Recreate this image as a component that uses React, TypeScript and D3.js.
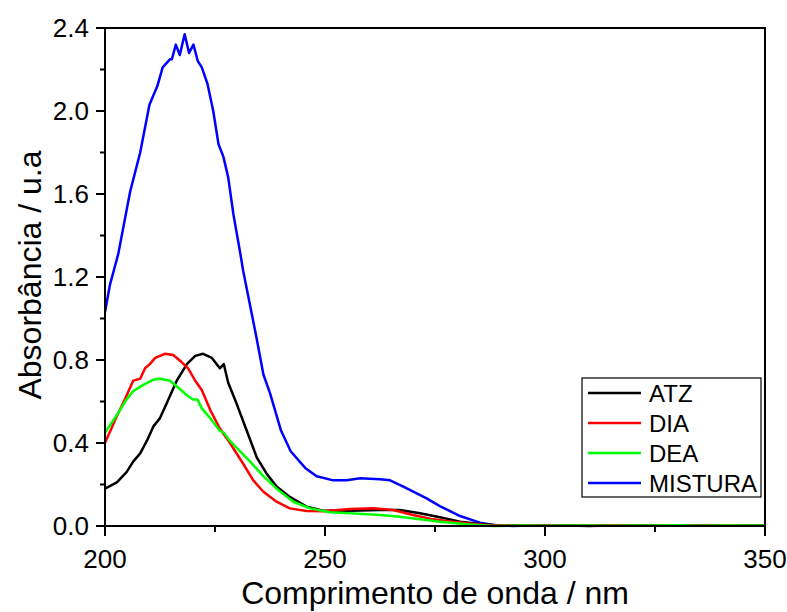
import React from "react";
import * as d3 from "d3";

const atzX = [200, 202.7, 204.9, 206.4, 208, 209.5, 211, 212.5, 214, 216.3, 218.6, 220.5, 222.3, 224.3, 226.1, 227, 228, 229.9, 232.2, 234.5, 236.8, 239, 242, 245.8, 249.6, 255.7, 262.5, 267, 271.6, 276.1, 280.7, 285.2, 289.8, 295, 300, 305, 310, 315, 320, 325, 330, 335, 340, 345, 350];
const atzY = [0.18, 0.21, 0.26, 0.31, 0.35, 0.41, 0.48, 0.52, 0.59, 0.70, 0.78, 0.82, 0.83, 0.81, 0.76, 0.78, 0.69, 0.59, 0.46, 0.33, 0.25, 0.19, 0.14, 0.093, 0.074, 0.074, 0.077, 0.077, 0.061, 0.042, 0.021, 0.01, 0.002, 0.003, 0.001, 0.002, 0.0, 0.002, 0.004, 0.001, 0.003, 0.002, 0.001, 0.003, 0.002];

const diaX = [200, 202.7, 204.5, 206.4, 208, 209.1, 210.2, 211.4, 213.6, 215.5, 217.4, 218.9, 220.5, 222, 223.9, 226.1, 228.4, 231.4, 233.7, 236, 239, 242, 245.8, 249.6, 255.7, 261, 265.5, 270, 274.6, 279, 283.7, 288.2, 295, 300, 305, 310, 315, 320, 325, 330, 335, 340, 345, 350];
const diaY = [0.40, 0.53, 0.61, 0.70, 0.71, 0.76, 0.78, 0.81, 0.83, 0.824, 0.79, 0.76, 0.70, 0.655, 0.56, 0.47, 0.40, 0.30, 0.22, 0.165, 0.117, 0.085, 0.072, 0.071, 0.082, 0.085, 0.077, 0.053, 0.032, 0.02, 0.01, 0.002, 0.002, 0.003, 0.001, 0.002, 0.004, 0.002, 0.001, 0.003, 0.002, 0.004, 0.002, 0.003];

const deaX = [200, 202.7, 204.9, 206.4, 208.7, 211, 212.5, 214.8, 217, 218.6, 220, 221, 222, 223.9, 226.1, 227, 228.4, 230.7, 233, 236, 239, 242.8, 246.6, 251.1, 255.7, 262.5, 267, 271.6, 276.1, 282.2, 288.2, 295, 300, 305, 310, 315, 320, 325, 330, 335, 340, 345, 350];
const deaY = [0.45, 0.535, 0.61, 0.65, 0.68, 0.705, 0.71, 0.70, 0.66, 0.63, 0.61, 0.61, 0.567, 0.52, 0.458, 0.45, 0.41, 0.36, 0.31, 0.24, 0.18, 0.117, 0.085, 0.066, 0.061, 0.053, 0.045, 0.032, 0.021, 0.008, 0.0, 0.002, 0.001, 0.003, 0.002, 0.001, 0.003, 0.002, 0.004, 0.001, 0.002, 0.003, 0.002];

const misX = [200, 201.1, 203, 205.7, 208, 210.1, 211.9, 213.1, 214.8, 215.2, 216.1, 217, 218.1, 219.1, 220.1, 221.1, 222, 223.3, 224.6, 225.8, 226.9, 228, 229.2, 230.7, 231.4, 233, 234.5, 236, 237.5, 240, 242.2, 245.5, 248.1, 251.9, 254.9, 258, 262.5, 264.8, 267.8, 273.1, 276.1, 280.7, 285.2, 288.3, 292.7, 297, 302, 307, 312, 317, 322, 327, 332, 337, 342, 346, 350];
const misY = [1.03, 1.16, 1.31, 1.61, 1.80, 2.03, 2.12, 2.21, 2.25, 2.25, 2.32, 2.27, 2.37, 2.28, 2.32, 2.24, 2.21, 2.13, 2.00, 1.84, 1.78, 1.68, 1.50, 1.32, 1.23, 1.06, 0.90, 0.73, 0.64, 0.46, 0.36, 0.28, 0.24, 0.22, 0.22, 0.23, 0.225, 0.22, 0.19, 0.133, 0.096, 0.048, 0.016, 0.005, 0.0, 0.003, 0.001, 0.004, 0.002, 0.001, 0.004, 0.002, 0.003, 0.001, 0.003, 0.002, 0.003];

const seriesNames = ["ATZ", "DIA", "DEA", "MISTURA"];
const seriesColors = ["#000000", "#ff0000", "#00ff00", "#0000ff"];
const seriesX = [atzX, diaX, deaX, misX];
const seriesY = [atzY, diaY, deaY, misY];

const xTicks = [200, 250, 300, 350];
const xMinor = [225, 275, 325];
const yTicks = [0.0, 0.4, 0.8, 1.2, 1.6, 2.0, 2.4];
const yMinor = [0.2, 0.6, 1.0, 1.4, 1.8, 2.2];

const W = 787, H = 612;
const L = 105, R = 765, T = 28, B = 526;

export default function App() {
  const x = d3.scaleLinear().domain([200, 350]).range([L, R]);
  const y = d3.scaleLinear().domain([0, 2.4]).range([B, T]);
  const font = "'Liberation Sans', Arial, sans-serif";
  const line = d3.line<[number, number]>().x(d => x(d[0])).y(d => y(d[1]));
  const order = [3, 0, 1, 2];
  return (
    <svg width={W} height={H} style={{ position: "absolute", left: 0, top: 0, background: "#fff" }} fontFamily={font}>
      <defs>
        <clipPath id="plotclip"><rect x={L} y={T - 2} width={R - L} height={B - T + 4} /></clipPath>
      </defs>
      <g clipPath="url(#plotclip)">
        {order.map(i => (
          <path key={i} d={line(seriesX[i].map((v, k) => [v, seriesY[i][k]] as [number, number])) || ""}
            fill="none" stroke={seriesColors[i]} strokeWidth={2.5} strokeLinejoin="round" />
        ))}
      </g>
      <rect x={L} y={T} width={R - L} height={B - T} fill="none" stroke="#000" strokeWidth={2} />
      {xTicks.map(t => (
        <g key={"xt" + t}>
          <line x1={x(t)} x2={x(t)} y1={B} y2={B + 10} stroke="#000" strokeWidth={2} />
          <text x={x(t)} y={B + 42} textAnchor="middle" fontSize={26}>{t}</text>
        </g>
      ))}
      {xMinor.map(t => (
        <line key={"xm" + t} x1={x(t)} x2={x(t)} y1={B} y2={B + 6} stroke="#000" strokeWidth={2} />
      ))}
      {yTicks.map(t => (
        <g key={"yt" + t}>
          <line x1={L - 9} x2={L} y1={y(t)} y2={y(t)} stroke="#000" strokeWidth={2} />
          <text x={L - 16} y={y(t) + 9} textAnchor="end" fontSize={26}>{t.toFixed(1)}</text>
        </g>
      ))}
      {yMinor.map(t => (
        <line key={"ym" + t} x1={L - 5} x2={L} y1={y(t)} y2={y(t)} stroke="#000" strokeWidth={2} />
      ))}
      <text x={(L + R) / 2} y={604} textAnchor="middle" fontSize={32}>Comprimento de onda / nm</text>
      <text transform={`translate(41, ${(T + B) / 2 - 2}) rotate(-90)`} textAnchor="middle" fontSize={32}>Absorbância / u.a</text>
      <g>
        <rect x={582} y={378} width={179} height={119} fill="#fff" stroke="#000" strokeWidth={1.2} />
        {seriesNames.map((n, i) => (
          <g key={n}>
            <line x1={588} x2={641} y1={393 + i * 30} y2={393 + i * 30} stroke={seriesColors[i]} strokeWidth={2.5} />
            <text x={649} y={393 + i * 30 + 9} fontSize={24}>{n}</text>
          </g>
        ))}
      </g>
    </svg>
  );
}
